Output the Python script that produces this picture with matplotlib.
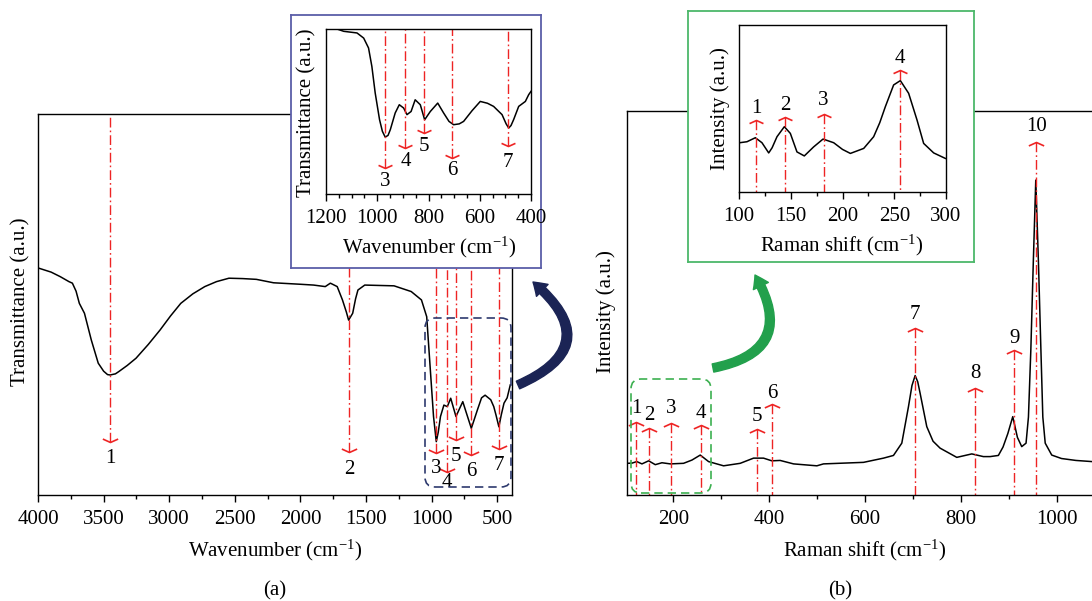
import matplotlib
matplotlib.use('Agg')
import matplotlib.pyplot as plt
from matplotlib.path import Path
from matplotlib.patches import FancyBboxPatch, FancyArrowPatch
from matplotlib.ticker import MultipleLocator

plt.rcParams['font.family'] = ['Liberation Serif', 'DejaVu Serif']
plt.rcParams['mathtext.default'] = 'regular'
plt.rcParams['font.size'] = 15

# ---- data (arbitrary units 0-100 for y) ----
# (a) FTIR spectrum
ftir_wn = [4000, 3900, 3830, 3764, 3738, 3710, 3685, 3646, 3594, 3541, 3500, 3470,
           3450, 3410, 3384, 3320, 3253, 3160, 3070, 2990, 2912, 2820, 2729, 2640,
           2545, 2440, 2336, 2205, 2100, 1995, 1900, 1811, 1772, 1720, 1680, 1650,
           1633, 1602, 1580, 1562, 1510, 1400, 1287, 1156, 1078, 1038, 1012, 986,
           965, 950, 933, 907, 881, 855, 835, 815, 790, 763, 740, 698, 650, 620,
           593, 550, 527, 510, 488, 470, 449, 425, 401]
ftir_t = [59.6, 58.5, 57.3, 56.0, 55.6, 53.5, 50.3, 47.7, 40.7, 34.6, 32.5, 31.6,
          31.5, 31.8, 32.4, 34.0, 35.9, 39.5, 43.3, 47.0, 50.3, 52.8, 54.7, 56.0,
          56.9, 56.8, 56.6, 55.7, 55.5, 55.3, 55.1, 54.7, 55.6, 54.7, 51.2, 48.0,
          45.9, 47.7, 51.5, 53.8, 55.1, 55.0, 54.9, 53.4, 51.2, 46.8, 33.7, 20.6,
          14.0, 16.5, 20.6, 23.6, 23.2, 25.4, 23.0, 20.6, 22.5, 24.5, 22.0, 17.5,
          22.5, 25.5, 26.2, 25.0, 23.2, 21.0, 17.9, 21.0, 24.1, 25.5, 28.9]
ftir_peaks = [3450, 1630, 965, 885, 815, 700, 488]
ftir_tips = [14.0, 11.4, 10.9, 6.1, 14.4, 10.5, 12.2]
ftir_labpos = [9.6, 6.6, 7.0, 3.2, 10.1, 6.1, 7.7]
ftir_names = ['1', '2', '3', '4', '5', '6', '7']

# (a) inset, 1200-400 cm-1
ins_a_wn = [1200, 1157, 1131, 1079, 1053, 1034, 1021, 1008, 991, 980, 969, 958,
            949, 930, 914, 897, 884, 868, 852, 832, 815, 793, 764, 741, 720, 702,
            680, 663, 630, 598, 570, 546, 513, 497, 487, 478, 468, 448, 422, 409, 400]
ins_a_t = [100, 100, 98.6, 97.6, 94.5, 88.5, 77.3, 61.2, 45, 38.0, 34.5, 35.5,
           39, 49.1, 54.1, 52.1, 48.1, 50, 57.1, 54.1, 45, 50, 55.1, 49.1, 44.0, 42,
           42.5, 44, 50.5, 56.1, 55.0, 53.1, 48.1, 42.5, 40, 41.5, 45, 53.1, 56.1, 60.2, 62.2]
ins_a_peaks = [970, 890, 817, 708, 490]
ins_a_tips = [15.8, 27.9, 37.0, 21.8, 28.8]
ins_a_labpos = [7.6, 19.8, 28.8, 14.1, 18.8]
ins_a_names = ['3', '4', '5', '6', '7']

# (b) Raman spectrum
raman_x = [103.4, 113.8, 124, 134.7, 148.6, 162.5, 176.4, 193.7, 221.5, 239,
           256.3, 273.7, 305, 339.7, 367.5, 388.3, 405.7, 423, 451, 499.6,
           513.4, 596.9, 638.6, 659.4, 676.8, 690.7, 698, 704.6, 710, 715,
           728.9, 742, 756.7, 791.5, 822.8, 847, 861, 878.3, 888, 898,
           908.3, 918, 927, 936, 941, 946, 951, 956.3, 962, 967,
           971, 976, 989.6, 1010, 1040, 1073.6]
raman_i = [8.25, 8.3, 8.7, 8.1, 8.9, 7.9, 8.4, 8.1, 8.25, 9.1,
           10.4, 8.7, 7.6, 8.25, 9.6, 9.6, 8.9, 9.0, 8.1, 7.6,
           8.1, 8.5, 9.6, 10.3, 13.5, 23.0, 28.5, 31.1, 29.5, 26.5,
           17.8, 14.0, 12.2, 9.8, 10.7, 10.0, 10.0, 10.3, 12.5, 16.0,
           20.4, 15.0, 12.6, 13.5, 20.3, 37.8, 60.0, 82.0, 60.0, 37.8,
           20.3, 13.5, 10.4, 9.5, 9.0, 8.7]
raman_peaks = [122, 150, 196, 258, 374.5, 405.7, 704.6, 829.7, 911.7, 957]
raman_tips = [19.1, 17.5, 18.7, 18.2, 17.2, 23.7, 43.6, 27.8, 37.8, 92.0]
raman_labpos = [22.6, 20.8, 22.6, 21.3, 20.4, 26.5, 46.9, 31.7, 40.8, 95.9]
raman_names = ['1', '2', '3', '4', '5', '6', '7', '8', '9', '10']

# (b) inset, 100-300 cm-1
ins_b_x = [100.6, 107.7, 115.8, 122.2, 128.7, 132, 136.7, 143.8, 149.6, 156,
           163.1, 172.1, 181.2, 191.5, 200, 207.6, 220.5, 230.1, 236, 241.4,
           249.4, 255.9, 263.9, 272, 278.4, 288.1, 299.4]
ins_b_i = [29.5, 30.1, 32.5, 29.5, 23.4, 26.5, 33.1, 39.1, 35.1, 24.0,
           21.6, 27.0, 31.7, 29.5, 25.5, 23.1, 26.1, 33.1, 41.5, 51.1,
           64.1, 66.7, 59.1, 43.1, 29.1, 23.4, 20.1]
ins_b_peaks = [116.4, 144.4, 181.8, 255.2]
ins_b_tips = [43, 45, 46.7, 73]
ins_b_labpos = [50, 52, 55, 80]
ins_b_names = ['1', '2', '3', '4']

W, H = 1092, 601
fig = plt.figure(figsize=(W / 100, H / 100), dpi=100)

def rect(x0, y0, x1, y1):
    # pixel box (origin top-left) -> figure fraction
    return [x0 / W, 1 - y1 / H, (x1 - x0) / W, (y1 - y0) / H]

RED = '#ee2424'
DASHDOT = (0, (7, 2.2, 1.2, 2.2))
MOVE3 = [Path.MOVETO, Path.LINETO, Path.LINETO]
down_head = Path([(-1, 0.45), (0, 0), (1, 0.45)], MOVE3)
up_head = Path([(-1, -0.45), (0, 0), (1, -0.45)], MOVE3)


def style(ax, major, minor):
    ax.set_yticks([])
    ax.xaxis.set_major_locator(MultipleLocator(major))
    ax.xaxis.set_minor_locator(MultipleLocator(minor))
    ax.tick_params(axis='x', which='major', direction='out', length=5, width=1, pad=6)
    ax.tick_params(axis='x', which='minor', direction='out', length=3, width=1)
    for s in ax.spines.values():
        s.set_linewidth(1)


def marks(ax, xs, tips, labpos, names, end, head, ms=11):
    for x, t, l, n in zip(xs, tips, labpos, names):
        ax.plot([x, x], [t, end], color=RED, lw=1, ls=DASHDOT)
        ax.plot([x], [t], marker=head, ms=ms, mfc='none', mec=RED, mew=1.2)
        ax.text(x, l, n, ha='center', va='center')


# ---- (a) FTIR ----
ax1 = fig.add_axes(rect(38, 114, 512, 495))
ax1.plot(ftir_wn, ftir_t, color='black', lw=1.1)
marks(ax1, ftir_peaks, ftir_tips, ftir_labpos, ftir_names, 100, down_head)
ax1.set_xlim(4000, 388)
ax1.set_ylim(0, 100)
style(ax1, 500, 250)

# ---- (b) Raman ----
ax2 = fig.add_axes(rect(627, 111, 1092, 495))
ax2.plot(raman_x, raman_i, color='black', lw=1.1)
marks(ax2, raman_peaks, raman_tips, raman_labpos, raman_names, 0, up_head)
ax2.set_xlim(103.5, 1073.6)
ax2.set_ylim(0, 100)
ax2.spines['right'].set_visible(False)
style(ax2, 200, 100)

# ---- inset frames ----
for box, col in [((291, 15, 541, 268), '#5b5ea8'), ((688, 11, 974, 262), '#4cb86a')]:
    fr = fig.add_axes(rect(*box))
    fr.set_xticks([])
    fr.set_yticks([])
    for s in fr.spines.values():
        s.set_color(col)
        s.set_linewidth(1.3)

# ---- (a) inset ----
ax3 = fig.add_axes(rect(326, 29, 531, 194))
ax3.plot(ins_a_wn, ins_a_t, color='black', lw=1.1)
marks(ax3, ins_a_peaks, ins_a_tips, ins_a_labpos, ins_a_names, 100, down_head, ms=10)
ax3.set_xlim(1200, 400)
ax3.set_ylim(0, 100)
style(ax3, 200, 50)

# ---- (b) inset ----
ax4 = fig.add_axes(rect(739, 25, 946, 192))
ax4.plot(ins_b_x, ins_b_i, color='black', lw=1.1)
marks(ax4, ins_b_peaks, ins_b_tips, ins_b_labpos, ins_b_names, 0, up_head, ms=10)
ax4.set_xlim(100, 300)
ax4.set_ylim(0, 100)
style(ax4, 50, 25)

# ---- axis labels (figure pixel positions) ----
def ftext(x, y, s, rot=0, **kw):
    fig.text(x / W, 1 - y / H, s, ha='center', va='center', rotation=rot, **kw)

ftext(275, 550, 'Wavenumber (cm$^{-1}$)')
ftext(21, 302, 'Transmittance (a.u.)', 90)
ftext(865, 550, 'Raman shift (cm$^{-1}$)')
ftext(606, 312, 'Intensity (a.u.)', 90)
ftext(429, 247, 'Wavenumber (cm$^{-1}$)')
ftext(307, 113, 'Transmittance (a.u.)', 90)
ftext(842, 245, 'Raman shift (cm$^{-1}$)')
ftext(720, 109, 'Intensity (a.u.)', 90)
ftext(275, 591, '(a)')
ftext(840, 591, '(b)')

# ---- dashed zoom boxes ----
for (x0, y0, x1, y1), col in [((425, 318, 511, 487), '#2e3a6e'), ((631, 379, 711, 493), '#3cb050')]:
    fig.add_artist(FancyBboxPatch((x0 / 100, (H - y1) / 100), (x1 - x0) / 100, (y1 - y0) / 100,
                                  boxstyle='round,pad=0,rounding_size=0.1',
                                  transform=fig.dpi_scale_trans, fill=False,
                                  ec=col, lw=1.2, ls=(0, (5, 3))))

# ---- curved arrows ----
for (xa, ya), (xb, yb), rad, col in [((518, 385), (533, 282), 0.8, '#1b2455'),
                                     ((713, 368), (755, 275), 0.7, '#22a04c')]:
    fig.add_artist(FancyArrowPatch((xa / 100, (H - ya) / 100), (xb / 100, (H - yb) / 100),
                                   connectionstyle=f'arc3,rad={rad}',
                                   arrowstyle='simple,head_length=0.9,head_width=1.2,tail_width=0.6',
                                   mutation_scale=10, shrinkA=0, shrinkB=0,
                                   transform=fig.dpi_scale_trans, color=col))

fig.savefig('out.png', dpi=100)
